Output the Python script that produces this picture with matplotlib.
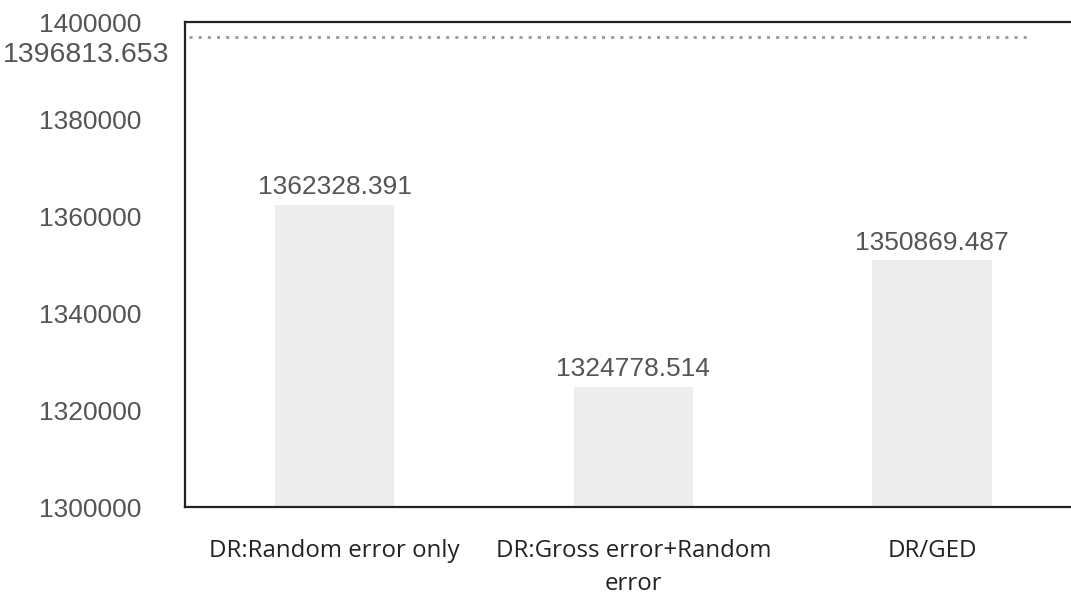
import matplotlib
matplotlib.use("Agg")
import matplotlib.pyplot as plt

categories = ["DR:Random error only", "DR:Gross error+Random\nerror", "DR/GED"]
values = [1362328.391, 1324778.514, 1350869.487]
reference_value = 1396813.653
y_ticks = [1300000, 1320000, 1340000, 1360000, 1380000, 1400000]

W, H = 1071, 601
fig = plt.figure(figsize=(W / 100, H / 100), dpi=100)
ax = fig.add_axes([185 / W, (H - 507) / H, (W - 185) / W + 0.01, (507 - 22) / H])

x = list(range(len(categories)))
bars = ax.bar(x, values, width=0.4, color="#ededed", edgecolor="none", zorder=1)
ax.set_xlim(-0.5, 2.5)
ax.set_ylim(1300000, 1400000)

ax.set_yticks(y_ticks)
ax.set_yticklabels([str(v) for v in y_ticks], fontfamily="Liberation Sans",
                   fontsize=19, color="#555555", ha="center")
ax.tick_params(axis="y", length=0, pad=68)
ax.set_xticks(x)
ax.set_xticklabels(categories, fontfamily="Open Sans", fontsize=17.3,
                   color="#222222", linespacing=1.5)
ax.tick_params(axis="x", length=0, pad=23)

for s in ax.spines.values():
    s.set_color("#222222")
    s.set_linewidth(1.6)
ax.spines["right"].set_visible(False)

ax.bar_label(bars, labels=[f"{v:.3f}" for v in values], padding=4,
             fontfamily="Liberation Sans", fontsize=19, color="#555555")

ax.axhline(reference_value, xmin=0.005, xmax=0.945, color="#a0a0a0",
           linestyle=(0, (1, 2)), linewidth=2.2, zorder=2)
ax.annotate(f"{reference_value:.3f}", xy=(0, reference_value),
            xycoords=("axes fraction", "data"), xytext=(-71, -12.5),
            textcoords="offset points", ha="center", va="center",
            fontfamily="Liberation Sans", fontsize=20.5, color="#555555",
            annotation_clip=False)

fig.savefig("out.png", dpi=100)
